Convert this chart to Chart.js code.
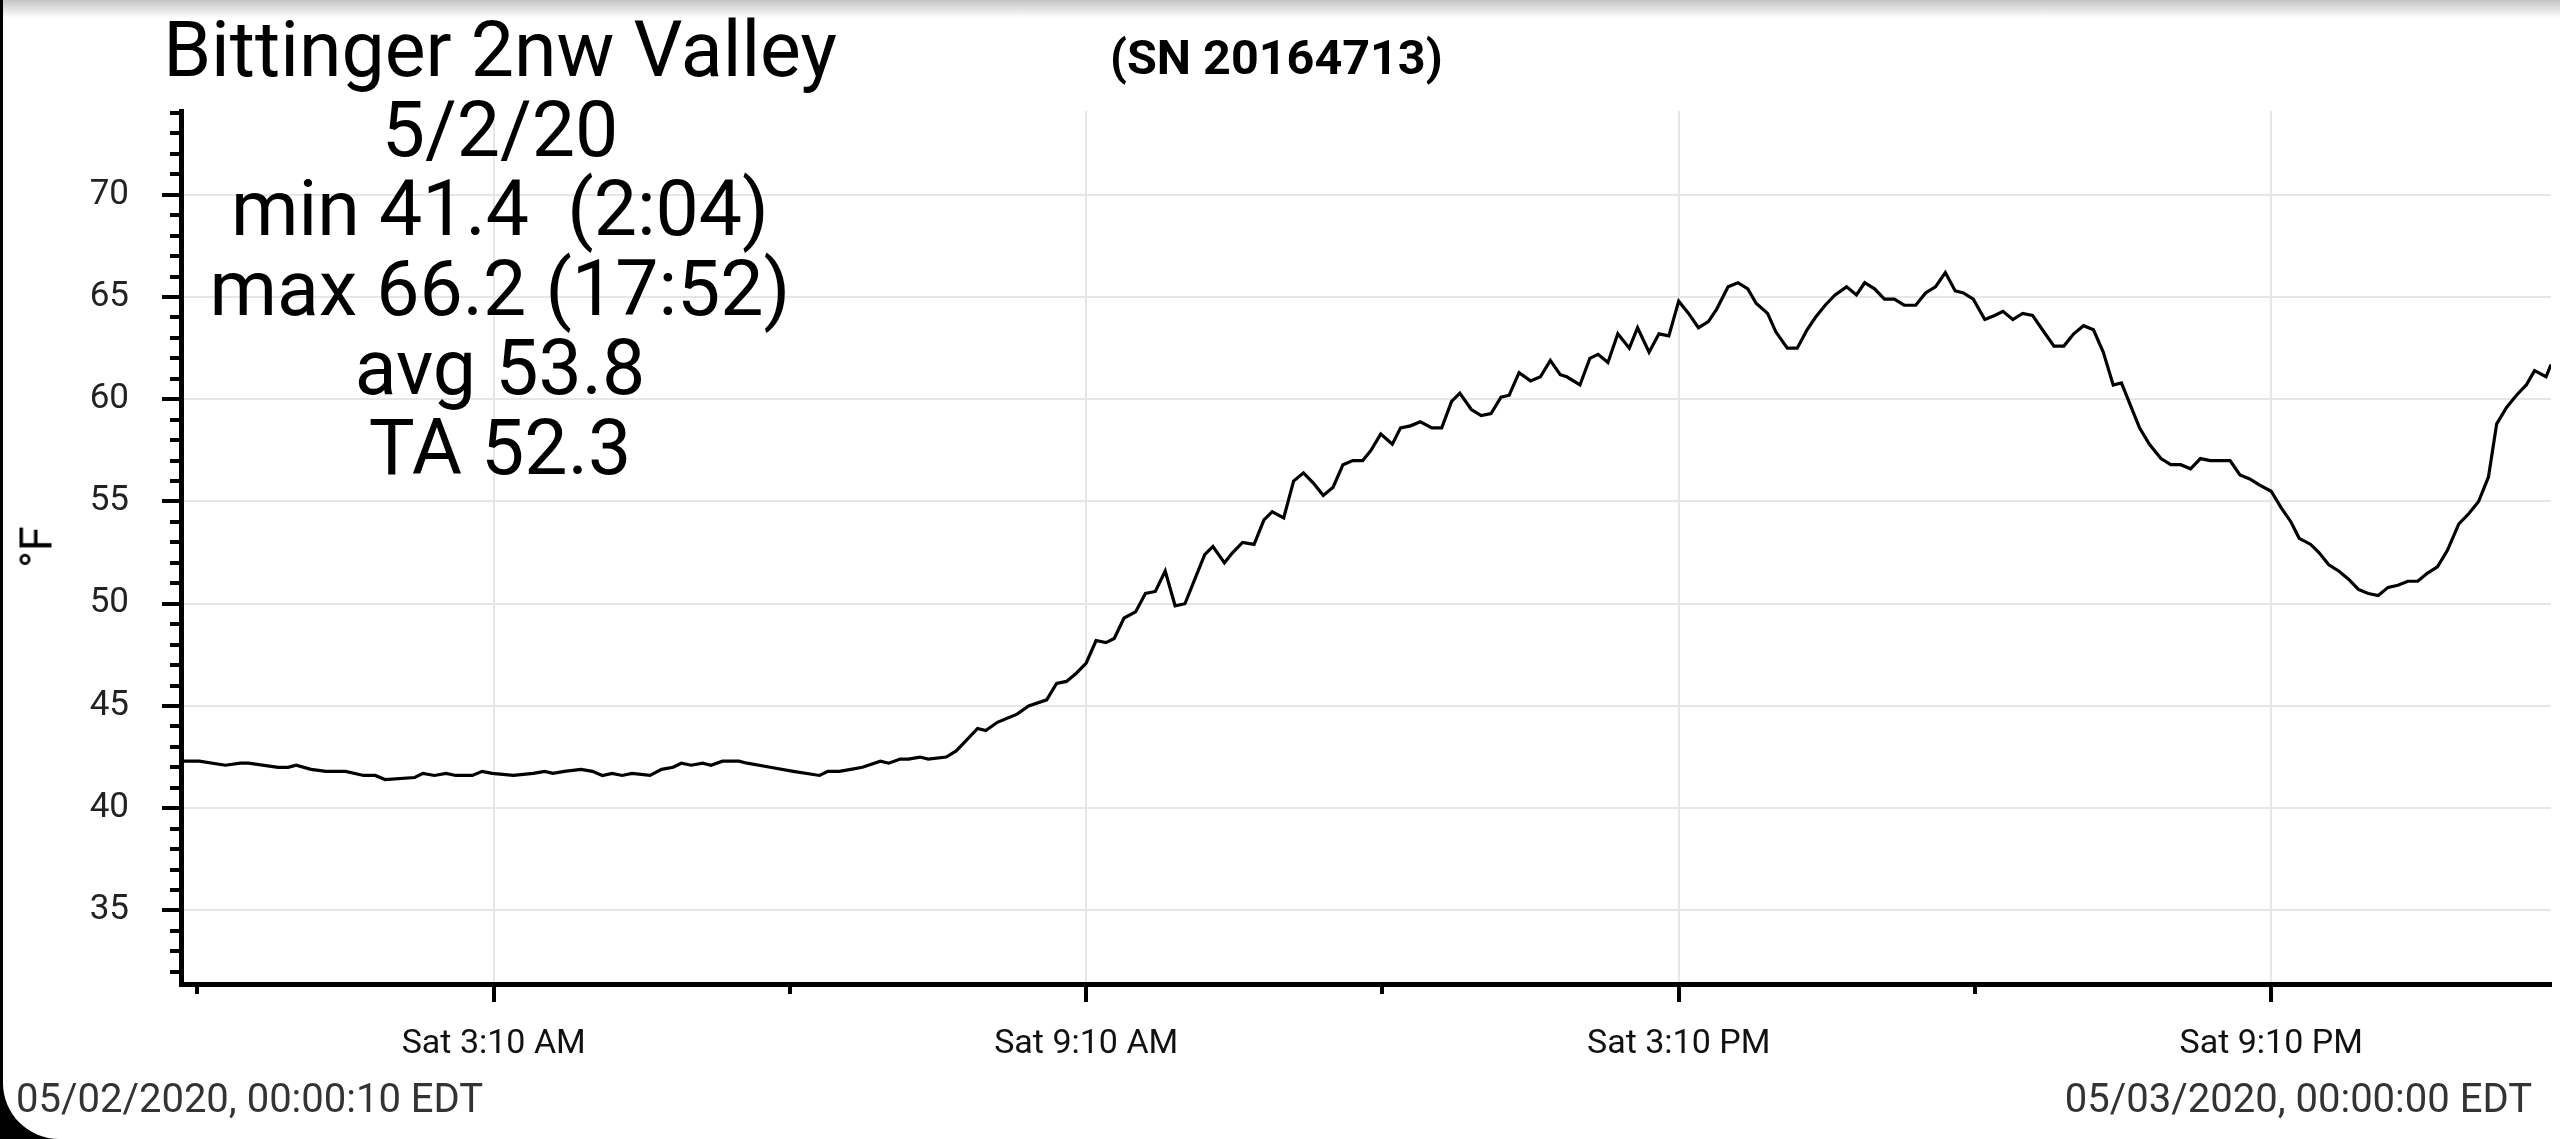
<!DOCTYPE html>
<html><head><meta charset="utf-8">
<script src="https://cdn.jsdelivr.net/npm/chart.js@4.4.0/dist/chart.umd.min.js"></script>
<style>
html,body{margin:0;padding:0;background:#fff;width:2560px;height:1139px;overflow:hidden;font-family:Roboto,sans-serif;}
#wrap{position:relative;width:2560px;height:1139px;}
#c{position:absolute;left:0;top:0;}
.t{position:absolute;white-space:pre;color:#000;font-family:Roboto,sans-serif;}
#info{left:100px;width:800px;top:11px;text-align:center;font-size:77px;line-height:79.5px;}
#sn{left:1110px;top:29px;font-size:48.5px;font-weight:bold;}
#unit{left:36px;top:547px;font-size:45px;transform:translate(-50%,-50%) rotate(-90deg);}
.foot{top:1075px;font-size:40px;color:#333;}
#f1{left:16px;}
#f2{right:28px;}
#topbar{position:absolute;left:0;top:0;width:2560px;height:18px;background:linear-gradient(#c4c4c4,#fff);}
#lbar{position:absolute;left:0;top:0;width:3px;height:1139px;background:#000;}
#corner{position:absolute;left:0;bottom:0;width:60px;height:60px;background:#000;}
#corner div{width:60px;height:60px;background:#fff;border-bottom-left-radius:56px;margin-left:3px;}
</style></head>
<body><div id="wrap">
<canvas id="c" width="2560" height="1139"></canvas>
<div id="topbar"></div><div id="lbar"></div>
<div id="corner"><div></div></div>
<div class="t" id="info"></div>
<div class="t" id="sn">(SN 20164713)</div>
<div class="t" id="unit">°F</div>
<div class="t foot" id="f1">05/02/2020, 00:00:10 EDT</div>
<div class="t foot" id="f2">05/03/2020, 00:00:00 EDT</div>
</div>
<script>
const titleLines = ["Bittinger 2nw Valley","5/2/20","min 41.4  (2:04)","max 66.2 (17:52)","avg 53.8","TA 52.3"];
const sampleMinutes = [0,11,27,36,41,59,65,70,79,88,100,111,118,124,142,147,154,161,167,177,183,189,202,214,221,226,233,243,250,256,262,268,274,285,292,299,304,310,317,322,329,339,344,358,372,388,393,400,407,414,425,430,437,442,449,454,465,471,477,484,489,496,508,515,526,532,538,544,550,556,562,567,573,580,586,592,598,604,610,616,622,627,634,639,645,652,658,663,670,676,682,688,694,700,706,712,718,723,729,736,741,747,753,760,766,772,777,784,790,796,802,807,813,820,826,832,838,842,850,856,861,867,873,880,885,892,898,904,910,916,922,928,933,940,946,952,957,964,969,976,982,988,993,999,1005,1012,1018,1023,1029,1035,1041,1047,1054,1060,1066,1072,1078,1083,1089,1096,1102,1107,1113,1119,1125,1131,1138,1144,1150,1156,1162,1168,1174,1179,1184,1190,1196,1203,1209,1215,1221,1227,1233,1239,1245,1251,1257,1263,1270,1276,1282,1287,1294,1299,1305,1311,1317,1323,1329,1335,1341,1347,1353,1359,1365,1371,1377,1384,1390,1396,1402,1407,1413,1419,1425,1430,1437,1440];
const tempF = [42.3,42.3,42.1,42.2,42.2,42.0,42.0,42.1,41.9,41.8,41.8,41.6,41.6,41.4,41.5,41.7,41.6,41.7,41.6,41.6,41.8,41.7,41.6,41.7,41.8,41.7,41.8,41.9,41.8,41.6,41.7,41.6,41.7,41.6,41.9,42.0,42.2,42.1,42.2,42.1,42.3,42.3,42.2,42.0,41.8,41.6,41.8,41.8,41.9,42.0,42.3,42.2,42.4,42.4,42.5,42.4,42.5,42.8,43.3,43.9,43.8,44.2,44.6,45.0,45.3,46.1,46.2,46.6,47.1,48.2,48.1,48.3,49.3,49.6,50.5,50.6,51.6,49.9,50.0,51.2,52.4,52.8,52.0,52.5,53.0,52.9,54.1,54.5,54.2,56.0,56.4,55.9,55.3,55.7,56.8,57.0,57.0,57.5,58.3,57.8,58.6,58.7,58.9,58.6,58.6,59.9,60.3,59.5,59.2,59.3,60.1,60.2,61.3,60.9,61.1,61.9,61.2,61.1,60.7,62.0,62.2,61.8,63.2,62.5,63.5,62.3,63.2,63.1,64.8,64.2,63.5,63.8,64.4,65.5,65.7,65.4,64.7,64.2,63.3,62.5,62.5,63.4,64.0,64.6,65.1,65.5,65.1,65.7,65.4,64.9,64.9,64.6,64.6,65.2,65.5,66.2,65.3,65.2,64.9,63.9,64.1,64.3,63.9,64.2,64.1,63.4,62.6,62.6,63.2,63.6,63.4,62.3,60.7,60.8,59.8,58.6,57.8,57.1,56.8,56.8,56.6,57.1,57.0,57.0,57.0,56.3,56.1,55.8,55.5,54.7,54.0,53.2,52.9,52.5,51.9,51.6,51.2,50.7,50.5,50.4,50.8,50.9,51.1,51.1,51.5,51.8,52.6,53.9,54.4,55.0,56.2,58.8,59.6,60.2,60.7,61.4,61.1,61.7];
const xMajorTicks = [190,550,910,1270];
const xMinorTicks = [10,370,730,1090];
const yMajorTicks = [35,40,45,50,55,60,65,70];
const yMin = 31.4, yMax = 74.1;

document.getElementById('info').textContent = titleLines.join('\n');

function fmtTime(m){
  const h = Math.floor(m/60), mm = m%60;
  const ap = h < 12 ? 'AM' : 'PM';
  const h12 = (h % 12) === 0 ? 12 : h % 12;
  return 'Sat ' + h12 + ':' + String(mm).padStart(2,'0') + ' ' + ap;
}

const minorTicksPlugin = {
  id:'minorTicks',
  afterDraw(chart){
    const ctx = chart.ctx, xs = chart.scales.x, ys = chart.scales.y;
    ctx.save();
    ctx.strokeStyle = '#000';
    ctx.lineWidth = 4;
    for (let v = Math.ceil(yMin); v <= Math.floor(yMax); v++) {
      if (v % 5 === 0) continue;
      const py = Math.round(ys.getPixelForValue(v));
      ctx.beginPath(); ctx.moveTo(xs.left - 11, py); ctx.lineTo(xs.left, py); ctx.stroke();
    }
    for (const m of xMinorTicks) {
      const px = Math.round(xs.getPixelForValue(m));
      ctx.beginPath(); ctx.moveTo(px, ys.bottom); ctx.lineTo(px, ys.bottom + 10); ctx.stroke();
    }
    ctx.restore();
  }
};

Chart.defaults.font.family = 'Roboto';
new Chart(document.getElementById('c'), {
  type:'line',
  data:{datasets:[{
    data: sampleMinutes.map((m,i)=>({x:m,y:tempF[i]})),
    borderColor:'#000', borderWidth:3.2, pointRadius:0, tension:0, fill:false
  }]},
  options:{
    responsive:false, animation:false, devicePixelRatio:1,
    layout:{padding:{left:0,right:9,top:111,bottom:0}},
    plugins:{legend:{display:false},tooltip:{enabled:false}},
    scales:{
      x:{type:'linear',min:0,max:1440,
        afterBuildTicks(s){ s.ticks = xMajorTicks.map(v=>({value:v})); },
        afterFit(s){ s.height = 155; },
        ticks:{callback:(v)=>fmtTime(v), color:'#111', font:{size:34}, padding:22, maxRotation:0, autoSkip:false},
        grid:{color:'#e6e6e6', lineWidth:2, tickColor:'#000', tickWidth:4, tickLength:18},
        border:{color:'#000', width:5}
      },
      y:{type:'linear',min:yMin,max:yMax,
        afterBuildTicks(s){ s.ticks = yMajorTicks.map(v=>({value:v})); },
        afterFit(s){ s.width = 181; },
        ticks:{color:'#222', font:{size:35}, padding:33},
        grid:{color:'#e6e6e6', lineWidth:2, tickColor:'#000', tickWidth:4, tickLength:19},
        border:{color:'#000', width:5}
      }
    }
  },
  plugins:[minorTicksPlugin]
});
</script>
</body></html>
